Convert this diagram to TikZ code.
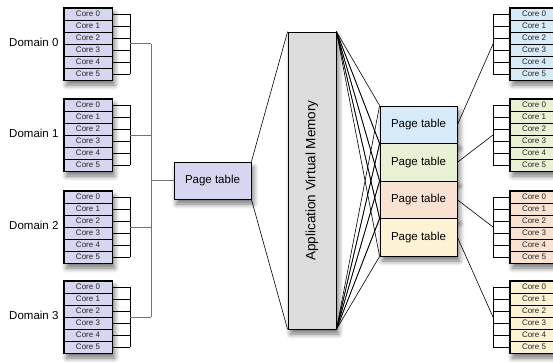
\documentclass[tikz,border=0pt]{standalone}
\usepackage{fontspec}
\setmainfont{Liberation Sans}
\usepackage{tikz}
\usetikzlibrary{shapes,positioning,calc,shadows.blur}

\definecolor{lavcell}{RGB}{214,214,240}
\definecolor{memgray}{RGB}{220,220,220}
\definecolor{ptblue}{RGB}{214,234,248}
\definecolor{ptgreen}{RGB}{233,241,213}
\definecolor{ptpeach}{RGB}{250,226,210}
\definecolor{ptyellow}{RGB}{253,242,212}

\begin{document}
\begin{tikzpicture}[
    x=1pt, y=-1pt,
    core/.style={rectangle, draw=black, line width=0.5pt, minimum width=48pt, minimum height=12pt, inner sep=0pt, font=\fontsize{8}{9}\selectfont, text=black!85},
    coreframe/.style={rectangle, draw=black, line width=1.2pt, minimum width=48pt, minimum height=72pt, inner sep=0pt, castshadow},
    pagetable/.style={rectangle, draw=black, line width=0.8pt, minimum width=77pt, minimum height=37.5pt, inner sep=0pt, font=\fontsize{11.5}{12}\selectfont},
    castshadow/.style={blur shadow={shadow xshift=2.5pt, shadow yshift=-5pt, shadow blur radius=5pt, shadow blur steps=8, shadow opacity=55}},
    domlabel/.style={anchor=east, font=\fontsize{11.5}{12}\selectfont},
    link/.style={draw=black, line width=0.6pt},
    trunk/.style={draw=black!55, line width=1pt}
]
\useasboundingbox (0,0) rectangle (553,361);

% Application virtual memory
\node[rectangle, draw=black, line width=0.8pt, fill=memgray, minimum width=48pt, minimum height=297pt, inner sep=0pt, castshadow] (avm) at (312,180.5) {};
\node[rotate=90, font=\fontsize{13.5}{14}\selectfont] (avmlabel) at (avm.center) {Application Virtual Memory};

% Shared page table
\node[pagetable, fill=lavcell, minimum height=37pt, castshadow] (lpt) at (212.5,180.5) {Page table};
\coordinate (ltrunk) at (151,180.5);
\draw[link] (lpt.north east) -- (avm.north west);
\draw[link] (lpt.south east) -- (avm.south west);
\draw[trunk] (ltrunk) -- (lpt.west);

% Domains (left)
\foreach \d/\m in {0/44,1/135,2/227,3/317} {
  \node[coreframe, fill=lavcell] (dom\d) at (88,\m) {};
  \foreach \c in {0,...,5} {
    \node[core, fill=lavcell] (d\d-\c) at (88,\m-30+12*\c) {Core \c};
  }
  \node[domlabel] (dlabel\d) at (62,\m-2) {Domain \d};
  \coordinate (lb\d) at (130,\m);
  \foreach \c in {0,...,5} {
    \draw[link] (d\d-\c.east) -- (d\d-\c.east -| lb\d);
  }
  \draw[link] (d\d-0.east -| lb\d) -- (d\d-5.east -| lb\d);
  \draw[trunk] (lb\d) -- (lb\d -| ltrunk);
}
\draw[trunk] (lb0 -| ltrunk) -- (lb3 -| ltrunk);

% Per-domain page tables (right)
\foreach \d/\m/\col in {0/44/ptblue,1/135/ptgreen,2/227/ptpeach,3/317/ptyellow} {
  \node[pagetable, fill=\col, castshadow] (pt\d) at (418.5,124.75+37.5*\d) {Page table};
  \node[coreframe, fill=\col] (rdom\d) at (534,\m) {};
  \foreach \c in {0,...,5} {
    \node[core, fill=\col] (r\d-\c) at (534,\m-30+12*\c) {Core \c};
  }
  \coordinate (rb\d) at (493,\m);
  \foreach \c in {0,...,5} {
    \draw[link] (r\d-\c.west) -- (r\d-\c.west -| rb\d);
  }
  \draw[link] (r\d-0.west -| rb\d) -- (r\d-5.west -| rb\d);
  \draw[link] (pt\d.east) -- (rb\d);
}

% Memory to page tables
\foreach \d in {0,...,3} {
  \draw[link] (avm.north east) -- (pt\d.north west);
  \draw[link] (avm.north east) -- (pt\d.south west);
  \draw[link] (avm.south east) -- (pt\d.north west);
  \draw[link] (avm.south east) -- (pt\d.south west);
}

\end{tikzpicture}
\end{document}
